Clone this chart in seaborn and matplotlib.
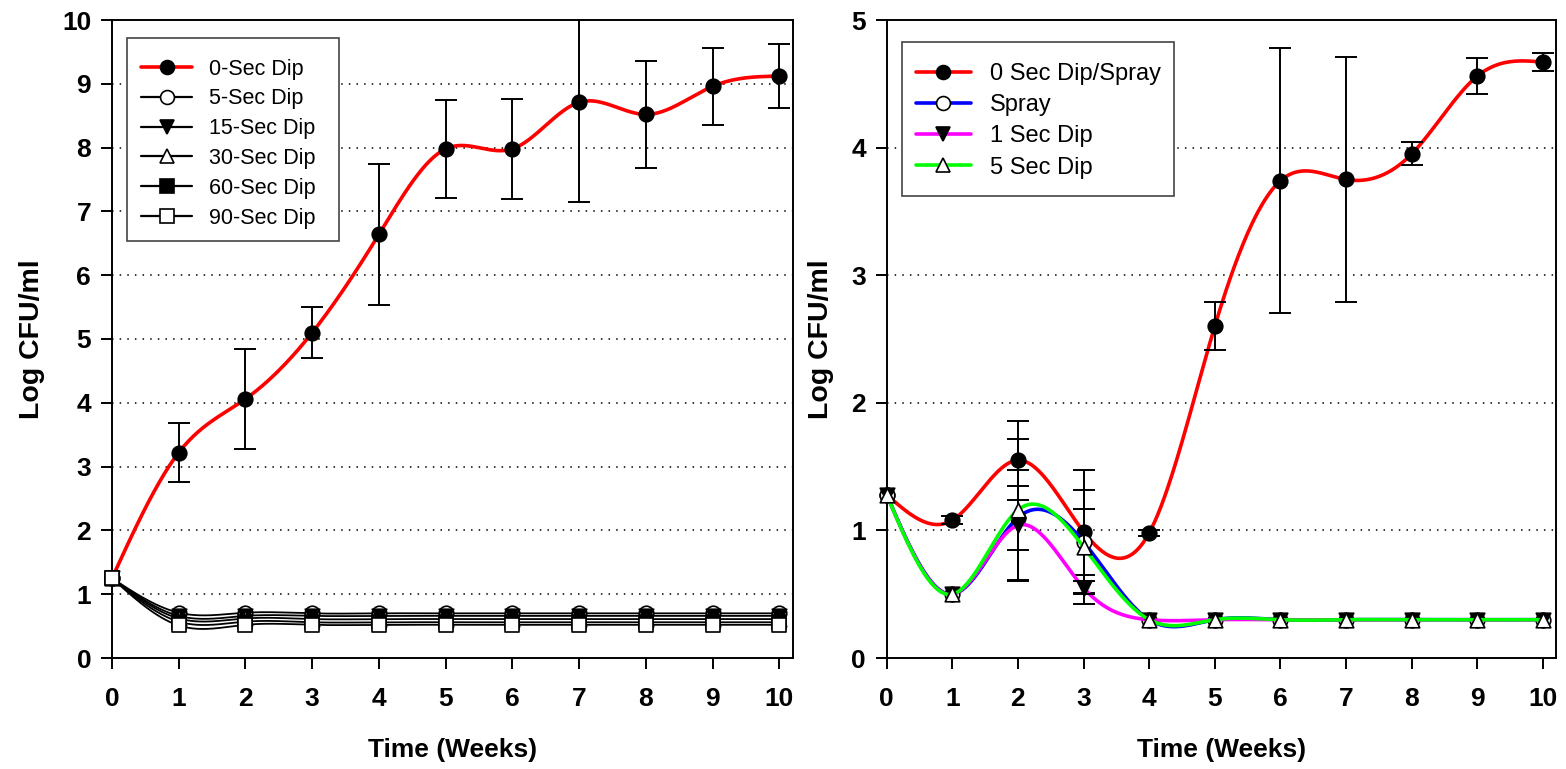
import numpy as np
import pandas as pd
import matplotlib
matplotlib.use("Agg")
import matplotlib.pyplot as plt
from matplotlib.lines import Line2D
from matplotlib.patches import Rectangle
import seaborn as sns

# ---------------- data ----------------
weeks = [0, 1, 2, 3, 4, 5, 6, 7, 8, 9, 10]

# Left panel
left_labels = ["0-Sec Dip", "5-Sec Dip", "15-Sec Dip", "30-Sec Dip", "60-Sec Dip", "90-Sec Dip"]
dip0 = [1.25, 3.22, 4.06, 5.10, 6.64, 7.98, 7.98, 8.71, 8.52, 8.96, 9.12]
dip0_err = [0.0, 0.46, 0.78, 0.40, 1.10, 0.77, 0.78, 1.56, 0.84, 0.60, 0.50]
dip5 = [1.25, 0.71, 0.71, 0.70, 0.70, 0.70, 0.70, 0.70, 0.70, 0.70, 0.70]
dip15 = [1.25, 0.66, 0.66, 0.66, 0.66, 0.66, 0.66, 0.66, 0.66, 0.66, 0.66]
dip30 = [1.25, 0.62, 0.62, 0.61, 0.61, 0.61, 0.61, 0.61, 0.61, 0.61, 0.61]
dip60 = [1.25, 0.57, 0.57, 0.56, 0.56, 0.56, 0.56, 0.56, 0.56, 0.56, 0.56]
dip90 = [1.25, 0.51, 0.52, 0.52, 0.52, 0.52, 0.52, 0.52, 0.52, 0.52, 0.52]

# Right panel
right_labels = ["0 Sec Dip/Spray", "Spray", "1 Sec Dip", "5 Sec Dip"]
ctrl = [1.28, 1.08, 1.55, 0.99, 0.98, 2.60, 3.74, 3.75, 3.95, 4.56, 4.67]
ctrl_err = [0.0, 0.03, 0.31, 0.48, 0.02, 0.19, 1.04, 0.96, 0.09, 0.14, 0.07]
spray = [1.28, 0.50, 1.10, 0.91, 0.30, 0.30, 0.30, 0.30, 0.30, 0.30, 0.30]
spray_err = [0.0, 0.0, 0.25, 0.26, 0.0, 0.0, 0.0, 0.0, 0.0, 0.0, 0.0]
sec1 = [1.28, 0.50, 1.04, 0.55, 0.30, 0.30, 0.30, 0.30, 0.30, 0.30, 0.30]
sec1_err = [0.0, 0.0, 0.43, 0.05, 0.0, 0.0, 0.0, 0.0, 0.0, 0.0, 0.0]
sec5 = [1.28, 0.50, 1.16, 0.87, 0.30, 0.30, 0.30, 0.30, 0.30, 0.30, 0.30]
sec5_err = [0.0, 0.0, 0.56, 0.45, 0.0, 0.0, 0.0, 0.0, 0.0, 0.0, 0.0]

left_ticks = [0, 1, 2, 3, 4, 5, 6, 7, 8, 9, 10]
right_yticks = [0, 1, 2, 3, 4, 5]


def smooth(x, y, n=60):
    """Natural cubic spline through the points, for drawing a smooth curve."""
    x = np.asarray(x, float)
    y = np.asarray(y, float)
    k = len(x)
    h = np.diff(x)
    A = np.zeros((k, k))
    b = np.zeros(k)
    A[0, 0] = A[-1, -1] = 1.0
    for i in range(1, k - 1):
        A[i, i - 1] = h[i - 1]
        A[i, i] = 2 * (h[i - 1] + h[i])
        A[i, i + 1] = h[i]
        b[i] = 6 * ((y[i + 1] - y[i]) / h[i] - (y[i] - y[i - 1]) / h[i - 1])
    M = np.linalg.solve(A, b)
    xs, ys = [], []
    for i in range(k - 1):
        t = np.linspace(x[i], x[i + 1], n, endpoint=(i == k - 2))
        hi = h[i]
        s = (M[i] * (x[i + 1] - t) ** 3 / (6 * hi) + M[i + 1] * (t - x[i]) ** 3 / (6 * hi)
             + (y[i] / hi - M[i] * hi / 6) * (x[i + 1] - t)
             + (y[i + 1] / hi - M[i + 1] * hi / 6) * (t - x[i]))
        xs.append(t)
        ys.append(s)
    return np.concatenate(xs), np.concatenate(ys)


sns.set_theme(style="white")
plt.rcParams["font.family"] = ["Liberation Sans", "DejaVu Sans"]
plt.rcParams["text.color"] = "black"
plt.rcParams["axes.labelcolor"] = "black"
plt.rcParams["xtick.color"] = "black"
plt.rcParams["ytick.color"] = "black"

W, H = 1566, 769
fig = plt.figure(figsize=(W / 100, H / 100), dpi=100)
axL = fig.add_axes([112 / W, 1 - 658 / H, (792.7 - 112) / W, 638 / H])
axR = fig.add_axes([886.7 / W, 1 - 658 / H, (1556 - 886.7) / W, 638 / H])


def px2ax(ax, px, py):
    p = ax.get_position()
    x0, w = p.x0 * W, p.width * W
    yb, h = (1 - p.y0) * H, p.height * H
    return (px - x0) / w, (yb - py) / h


def draw_series(ax, y, err, color, marker, face, lw, z):
    sx, sy = smooth(weeks, y)
    sns.lineplot(x=sx, y=sy, ax=ax, color=color, lw=lw, sort=False,
                 estimator=None, zorder=z, legend=False)
    if err is not None:
        e = np.asarray(err)
        mask = e > 0
        ax.errorbar(np.asarray(weeks)[mask], np.asarray(y)[mask], yerr=e[mask],
                    fmt="none", ecolor="black", elinewidth=1.4, capsize=8,
                    capthick=1.4, zorder=z + 0.5)
    sns.scatterplot(x=weeks, y=y, ax=ax, marker=marker, s=110,
                    color=face, edgecolor="black", linewidth=1.2,
                    zorder=z + 1, legend=False)
    ax.collections[-1].set_clip_on(False)


# ---------- left panel ----------
left_series = [
    (dip0, dip0_err, "red", "o", "black", 2.6),
    (dip5, None, "black", "o", "white", 1.3),
    (dip15, None, "black", "v", "black", 1.3),
    (dip30, None, "black", "^", "white", 1.3),
    (dip60, None, "black", "s", "black", 1.3),
    (dip90, None, "black", "s", "white", 1.3),
]
for i, (y, err, col, mk, face, lw) in enumerate(left_series):
    draw_series(axL, y, err, col, mk, face, lw, 3 + i * 2)

# ---------- right panel ----------
right_series = [
    (ctrl, ctrl_err, "red", "o", "black"),
    (spray, spray_err, "blue", "o", "white"),
    (sec1, sec1_err, "magenta", "v", "black"),
    (sec5, sec5_err, "lime", "^", "white"),
]
for i, (y, err, col, mk, face) in enumerate(right_series):
    draw_series(axR, y, err, col, mk, face, 2.6, 3 + i * 2)


def style_axes(ax, ymax, yticks):
    ax.set_xlim(0, 10.2)
    ax.set_ylim(0, ymax)
    ax.set_xticks(weeks)
    ax.set_yticks(yticks)
    for yv in yticks[1:-1]:
        ax.axhline(yv, color="black", lw=1.1, ls=(0, (1, 4)), zorder=1)
    for sp in ax.spines.values():
        sp.set_visible(True)
        sp.set_color("black")
        sp.set_linewidth(1.4)
    ax.tick_params(axis="both", which="major", direction="out", length=8,
                   width=1.4, color="black", labelcolor="black", labelsize=19,
                   bottom=True, left=True, top=False, right=False)
    ax.tick_params(axis="x", pad=13)
    ax.tick_params(axis="y", pad=7)
    for lab in ax.get_xticklabels() + ax.get_yticklabels():
        lab.set_fontweight("bold")
    ax.set_xlabel("Time (Weeks)", fontsize=19, fontweight="bold", labelpad=19)
    ax.set_ylabel("Log CFU/ml", fontsize=20.5, fontweight="bold", labelpad=12)
    ax.grid(False)


style_axes(axL, 10, left_ticks)
style_axes(axR, 5, right_yticks)


# legends
def make_handles(specs, labels):
    hs = []
    for (col, mk, face), lab in zip(specs, labels):
        hs.append(Line2D([0], [0], color=col, lw=2.6 if col != "black" else 1.6,
                         marker=mk, markersize=10, markerfacecolor=face,
                         markeredgecolor="black", markeredgewidth=1.2, label=lab))
    return hs


def add_legend(ax, handles, box, anchor, fs, hl, htp, ls):
    (bx0, by0, bx1, by1) = box
    ax0, ay0 = px2ax(ax, bx0, by1)
    ax1, ay1 = px2ax(ax, bx1, by0)
    rect = Rectangle((ax0, ay0), ax1 - ax0, ay1 - ay0, transform=ax.transAxes,
                     facecolor="white", edgecolor="#444444", lw=1.2, zorder=29,
                     clip_on=False)
    ax.add_patch(rect)
    leg = ax.legend(handles=handles, loc="upper left",
                    bbox_to_anchor=px2ax(ax, *anchor), fontsize=fs,
                    frameon=False, handlelength=hl, handletextpad=htp,
                    labelspacing=ls, borderpad=0, borderaxespad=0)
    leg.set_zorder(30)
    return leg


hL = make_handles([(s[2], s[3], s[4]) for s in left_series], left_labels)
add_legend(axL, hL, (127, 38, 339, 241), (141, 58.5), 15.5, 2.37, 0.8, 0.41)

hR = make_handles([(s[2], s[3], s[4]) for s in right_series], right_labels)
add_legend(axR, hR, (902, 42, 1174, 196), (915.7, 63), 17, 2.33, 0.82, 0.39)

fig.savefig("out.png", dpi=100)
